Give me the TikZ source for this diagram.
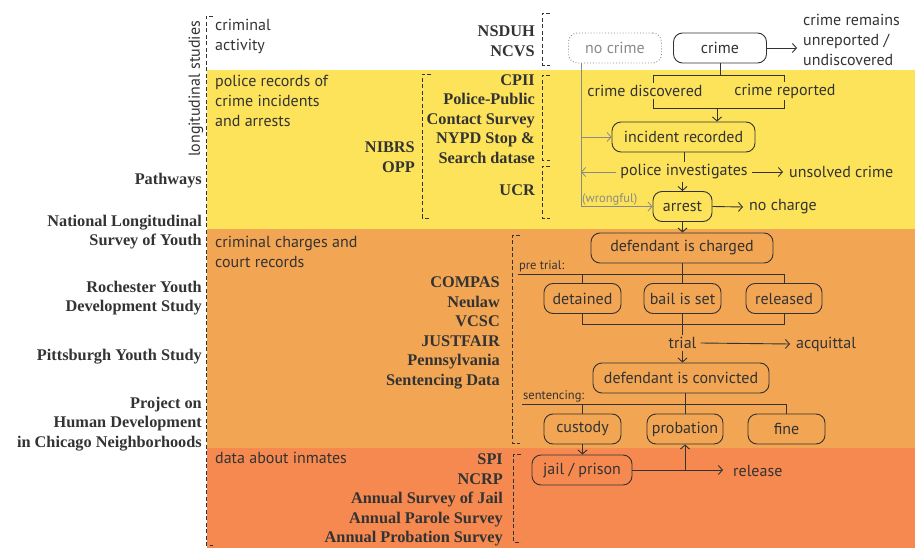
\documentclass[tikz,border=0pt]{standalone}
\usepackage{fontspec}
\setmainfont{Liberation Serif}
\newfontfamily\flowfont{PT Sans}
\usetikzlibrary{arrows.meta}
\definecolor{cyel}{HTML}{FDE35A}
\definecolor{corl}{HTML}{F2A553}
\definecolor{cord}{HTML}{F5894F}
\definecolor{ink}{HTML}{333333}
\definecolor{gry}{HTML}{8A8A8A}
\tikzset{
  box/.style={draw=ink, line width=0.9pt, rounded corners=9pt, minimum height=30pt, inner sep=2pt,
    font=\flowfont\fontsize{16}{18}\selectfont, text=ink},
  flow/.style={font=\flowfont\fontsize{16}{18}\selectfont, text=ink, inner sep=2pt},
  tgt/.style={flow, inner xsep=6pt},
  small/.style={font=\flowfont\fontsize{12.5}{14}\selectfont, inner sep=1pt},
  src/.style={font=\bfseries\fontsize{16.3}{19.5}\selectfont, text=ink, align=right, inner sep=0pt},
  lbl/.style={font=\flowfont\fontsize{16}{20}\selectfont, text=ink, align=left, inner sep=3pt},
  ln/.style={draw=ink, line width=0.9pt},
  arr/.style={ln, -{Straight Barb[length=4pt,width=9pt]}},
  gln/.style={draw=gry, line width=0.8pt},
  garr/.style={gln, -{Straight Barb[length=4pt,width=9pt]}},
  brk/.style={draw=ink, line width=0.8pt, dash pattern=on 4pt off 2.5pt},
}
\begin{document}
\begin{tikzpicture}[x=1pt,y=-1pt]
\useasboundingbox (0,0) rectangle (915,548);
% bands
\fill[cyel] (207,70) rectangle (915,229);
\fill[corl] (207,229) rectangle (915,448);
\fill[cord] (207,448) rectangle (915,548);

% left bracket and labels
\draw[brk] (213,16) -- (206,16) -- (206,545) -- (213,545);
\node[lbl, rotate=90] (longi) at (196,89) {longitudinal studies};
\node[src, anchor=east] (pathways) at (202,181) {Pathways};
\node[src, anchor=east] (nlsy) at (202,232) {National Longitudinal\\Survey of Youth};
\node[src, anchor=east] (rochester) at (202,298) {Rochester Youth\\Development Study};
\node[src, anchor=east] (pittsburgh) at (202,357) {Pittsburgh Youth Study};
\node[src, anchor=east] (chicago) at (202,424) {Project on\\Human Development\\in Chicago Neighborhoods};

% band labels
\node[lbl, anchor=west] (lab1) at (212,36) {criminal\\activity};
\node[lbl, anchor=west] (lab2) at (212,101) {police records of\\crime incidents\\and arrests};
\node[lbl, anchor=west] (lab3) at (212,252) {criminal charges and\\court records};
\node[lbl, anchor=west] (lab4) at (212,458) {data about inmates};

% source columns
\node[src, anchor=east] (nsduh) at (535,41) {NSDUH\\NCVS};
\draw[brk] (550,13) -- (542,13) -- (542,65) -- (550,65);
\node[src, anchor=east] (nibrs) at (415,157) {NIBRS\\OPP};
\draw[brk] (431,74) -- (422,74) -- (422,218) -- (431,218);
\node[src, anchor=east] (cpii) at (535,119) {CPII\\Police-Public\\Contact Survey\\NYPD Stop \&\\Search datase};
\draw[brk] (550,75) -- (542,75) -- (542,160) -- (550,160);
\node[src, anchor=east] (ucr) at (535,190) {UCR};
\draw[brk] (550,166) -- (542,166) -- (542,218) -- (550,218);
\node[src, anchor=east] (compas) at (500,333) {COMPAS\\Neulaw\\VCSC\\JUSTFAIR\\Pennsylvania\\Sentencing Data};
\draw[brk] (520,235) -- (512,235) -- (512,443) -- (520,443);
\node[src, anchor=east] (spi) at (503,500) {SPI\\NCRP\\Annual Survey of Jail\\Annual Parole Survey\\Annual Probation Survey};
\draw[brk] (521,454) -- (513,454) -- (513,542) -- (521,542);

% flow: crime
\node[box, minimum width=93pt, draw=gry, dotted, text=gry] (nocrime) at (615,48) {no crime};
\node[box, minimum width=93pt] (crime) at (720,48) {crime};
\node[tgt, anchor=west, align=left, font=\flowfont\fontsize{16}{20}\selectfont] (remain) at (797,40) {crime remains\\unreported /\\undiscovered};
\draw[arr] (crime.east) -- (crime.east -| remain.west);

\coordinate (s1) at (653,75);
\coordinate (s2) at (784,75);
\coordinate (s3) at (653,108);
\coordinate (s4) at (784,108);
\draw[ln] (crime.south) -- (crime.south |- s1);
\draw[ln] (s3) -- (s1) -- (s2) -- (s4) -- cycle;
\node[flow, fill=cyel] (disc) at (645,91) {crime discovered};
\node[flow, fill=cyel] (rep) at (785,91) {crime reported};

\node[box, minimum width=143pt] (incident) at (683.5,137) {incident recorded};
\coordinate (s5) at (717,108);
\draw[arr] (s5) -- (s5 |- incident.north);

\node[flow, fill=cyel, inner xsep=4pt] (police) at (684,172) {police investigates};
\draw[ln] (incident.south -| police.north) -- (police.north);
\node[tgt, anchor=west] (unsolved) at (783,172) {unsolved crime};
\draw[arr] (police.east) -- (unsolved.west);

\node[box, minimum width=59pt] (arrest) at (682.5,206.5) {arrest};
\draw[arr] (police.south -| arrest.north) -- (arrest.north);
\node[tgt, anchor=west] (nocharge) at (743,207) {no charge};
\draw[arr] (arrest.east) -- (nocharge.west);

% wrongful gray path
\coordinate (g1) at (581,137);
\coordinate (g2) at (581,172);
\coordinate (g3) at (581,206.5);
\draw[gln] (nocrime.south -| g1) -- (g3);
\draw[garr] (g3) -- (arrest.west);
\draw[garr] (g1) -- (incident.west);
\draw[garr] (police.west) -- (g2);
\node[small, text=gry, anchor=west] (wrong) at (581,199) {(wrongful)};

% court
\node[box, minimum width=182pt] (charged) at (682,248) {defendant is charged};
\draw[arr] (arrest.south) -- (arrest.south |- charged.north);
\coordinate (p0) at (518,274);
\node[small, text=ink, anchor=south west] (pretrial) at (518,273) {pre trial:};
\node[box, minimum width=77pt] (detained) at (582.5,298.5) {detained};
\node[box, minimum width=77pt] (bail) at (682.5,298.5) {bail is set};
\node[box, minimum width=76pt] (released) at (784,298.5) {released};
\draw[ln] (charged.south) -- (charged.south |- p0);
\draw[ln] (p0) -- (p0 -| released.north) -- (released.north);
\draw[ln] (detained.north) -- (detained.north |- p0);
\draw[ln] (bail.north) -- (bail.north |- p0);
\coordinate (j0) at (0,324);
\node[flow, fill=corl, inner xsep=4pt] (trial) at (682.5,343) {trial};
\draw[ln] (detained.south) -- (detained.south |- j0) -- (released.south |- j0) -- (released.south);
\draw[ln] (bail.south) -- (trial.north);
\node[tgt, anchor=west] (acquittal) at (790,344) {acquittal};
\draw[arr] (trial.east) -- (acquittal.west);

\node[box, minimum width=176pt] (convicted) at (681,378) {defendant is convicted};
\draw[arr] (trial.south) -- (trial.south |- convicted.north);
\coordinate (q0) at (522,404);
\node[small, text=ink, anchor=south west] (sentencing) at (522,403) {sentencing:};
\node[box, minimum width=77pt] (custody) at (582.5,429) {custody};
\node[box, minimum width=76pt] (probation) at (685,429) {probation};
\node[box, minimum width=77pt] (fine) at (786.5,429) {fine};
\draw[ln] (convicted.south -| probation.north) -- (probation.north |- q0);
\draw[ln] (q0) -- (q0 -| fine.north) -- (fine.north);
\draw[ln] (custody.north) -- (custody.north |- q0);
\draw[ln] (probation.north) -- (probation.north |- q0);

\node[box, minimum width=100pt] (jail) at (582,470) {jail / prison};
\draw[arr] (custody.south) -- (custody.south |- jail.north);
\coordinate (rj) at (685,470);
\node[tgt, anchor=west, inner xsep=10pt] (release) at (723,471) {release};
\draw[ln] (jail.east) -- (rj);
\draw[arr] (rj) -- (probation.south);
\draw[arr] (rj) -- (release.west |- rj);
\end{tikzpicture}
\end{document}
